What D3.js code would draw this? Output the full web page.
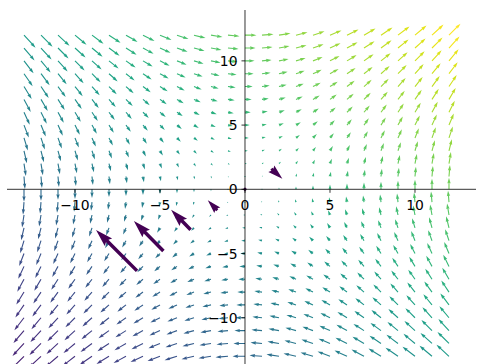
<!DOCTYPE html>
<html>
<head>
<meta charset="utf-8">
<script src="https://cdn.jsdelivr.net/npm/d3@7"></script>
<style>
  html, body { margin: 0; padding: 0; background: #fff; }
  svg { display: block; }
</style>
</head>
<body>
<svg id="chart" width="478" height="364"></svg>
<script>
// Sample grid (data units)
const gridX = [-13,-12,-11,-10,-9,-8,-7,-6,-5,-4,-3,-2,-1,0,1,2,3,4,5,6,7,8,9,10,11,12];
const gridY = [-13,-12,-11,-10,-9,-8,-7,-6,-5,-4,-3,-2,-1,0,1,2,3,4,5,6,7,8,9,10,11,12];
// Horizontal component of the field, one value per row (bottom row first)
const uByRow = [-13,-12,-11,-10,-9,-8,-7,-6,-5,-4,-3,-2,-1,0,1,2,3,4,5,6,7,8,9,10,11,12];
// Vertical component of the field, one value per column (left column first)
const vByCol = [-13,-12,-11,-10,-9,-8,-7,-6,-5,-4,-3,-2,-1,0,1,2,3,4,5,6,7,8,9,10,11,12];
// Colour limits for the field's u + v
const colourLimits = [-31, 24];

// Second set of vectors along the diagonal
const probeX = [1.55, 0, -1.63, -3.2, -4.8, -6.35];
const probeY = [1.6, 0, -1.63, -3.15, -4.8, -6.35];
const probeU = [11, 0, -9.5, -19.5, -29.5, -41];
const probeV = [-10, 0, 10, 20, 30, 41];

const xTicks = [-10, -5, 0, 5, 10];
const yTicks = [-10, -5, 0, 5, 10];

const svg = d3.select("#chart");
const x = d3.scaleLinear().domain([-14, 13.53]).range([7, 475]);
const y = d3.scaleLinear().domain([-13.6, 13.96]).range([364, 10]);

// Build the field table from the row / column readings
const field = [];
gridY.forEach((gy, j) => {
  gridX.forEach((gx, i) => {
    field.push({ x: gx, y: gy, u: uByRow[j], v: vByCol[i] });
  });
});
field.forEach(d => { d.c = d.u + d.v; });

const color = d3.scaleSequential(d3.interpolateViridis).domain(colourLimits).clamp(true);

// Arrow polygon in the style of a quiver arrow, measured in shaft widths
function arrowPath(lenPx, w) {
  const headwidth = 3, headlength = 5, headaxislength = 4.5, minshaft = 1, minlength = 1;
  const L = lenPx / w;
  const minsh = minshaft * headlength;
  let pts;
  if (L < minlength) {
    pts = d3.range(7).map(k => [Math.cos(k * Math.PI / 3) * minlength * 0.5, Math.sin(k * Math.PI / 3) * minlength * 0.5]);
  } else if (L < minsh) {
    const s = L / minsh;
    pts = [[0, 0.5], [minsh - headaxislength, 0.5], [minsh - headlength, headwidth / 2], [minsh, 0],
           [minsh - headlength, -headwidth / 2], [minsh - headaxislength, -0.5], [0, -0.5]]
          .map(p => [p[0] * s, p[1] * s]);
  } else {
    pts = [[0, 0.5], [L - headaxislength, 0.5], [L - headlength, headwidth / 2], [L, 0],
           [L - headlength, -headwidth / 2], [L - headaxislength, -0.5], [0, -0.5]];
  }
  return "M" + pts.map(p => (p[0] * w).toFixed(3) + "," + (p[1] * w).toFixed(3)).join("L") + "Z";
}

function drawQuiver(g, data, pxPerUnit, w, fill) {
  g.selectAll("path").data(data).join("path")
    .attr("d", d => arrowPath(Math.hypot(d.u, d.v) * pxPerUnit, w))
    .attr("transform", d => {
      const ang = Math.atan2(-d.v, d.u) * 180 / Math.PI;
      return `translate(${x(d.x)},${y(d.y)}) rotate(${ang})`;
    })
    .attr("fill", fill)
    .attr("stroke", "none");
}

// Main vector field
drawQuiver(svg.append("g"), field, 0.96, 1.12, d => color(d.c));

// Diagonal vectors
const probes = probeX.map((px, i) => ({ x: px, y: probeY[i], u: probeU[i], v: probeV[i] }));
drawQuiver(svg.append("g"), probes, 1.0, 3.5, d3.interpolateViridis(0));

// Spines through the origin
const x0 = x(0), y0 = y(0);
const axes = svg.append("g").attr("stroke", "#000").attr("stroke-width", 0.8);
axes.append("line").attr("x1", 7).attr("x2", 476).attr("y1", y0).attr("y2", y0);
axes.append("line").attr("x1", x0).attr("x2", x0).attr("y1", 10).attr("y2", 364);

// Ticks
axes.selectAll(".xt").data(xTicks).join("line")
  .attr("x1", d => x(d)).attr("x2", d => x(d)).attr("y1", y0).attr("y2", y0 + 3.5);
axes.selectAll(".yt").data(yTicks).join("line")
  .attr("x1", x0 - 3.5).attr("x2", x0).attr("y1", d => y(d)).attr("y2", d => y(d));

const fmt = d => (d < 0 ? "\u2212" + Math.abs(d) : String(d));
const labels = svg.append("g").attr("font-family", "DejaVu Sans, sans-serif").attr("font-size", "13.9px").attr("fill", "#000");
labels.selectAll(".xl").data(xTicks).join("text")
  .attr("x", d => x(d)).attr("y", y0 + 20.5)
  .attr("text-anchor", "middle")
  .text(fmt);
labels.selectAll(".yl").data(yTicks).join("text")
  .attr("x", x0 - 7.5).attr("y", d => y(d))
  .attr("dy", "0.36em")
  .attr("text-anchor", "end")
  .text(fmt);
</script>
</body>
</html>
